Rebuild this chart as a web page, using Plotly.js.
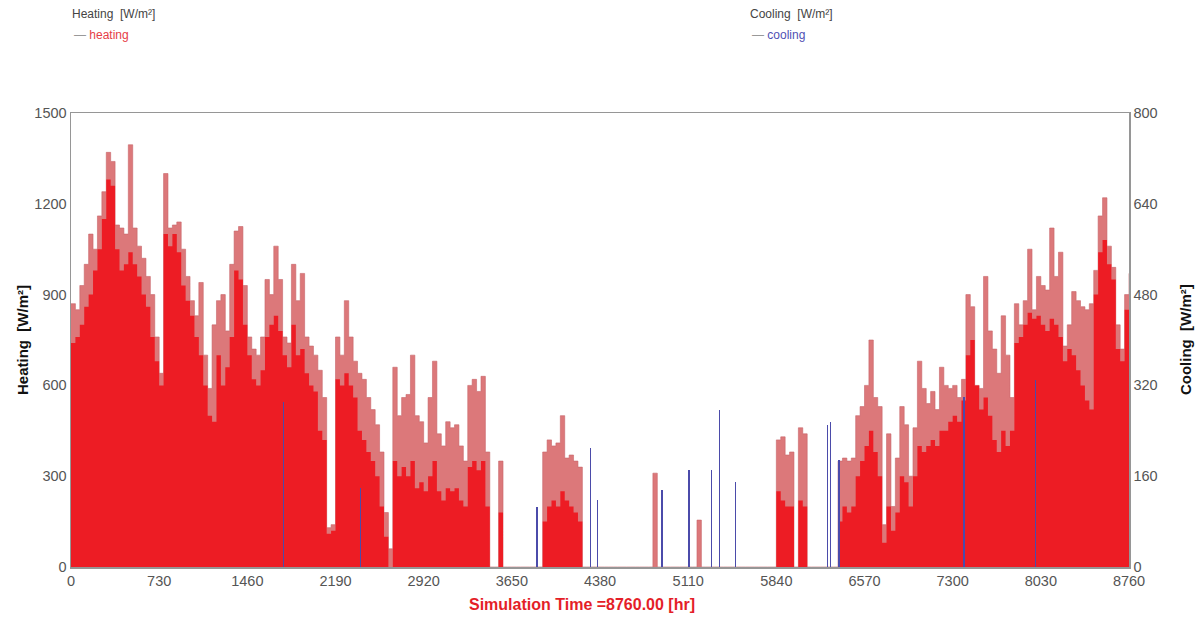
<!DOCTYPE html>
<html>
<head>
<meta charset="utf-8">
<script src="https://cdn.plot.ly/plotly-3.0.1.min.js"></script>
<style>html,body{margin:0;padding:0;background:#fff;}#chart{width:1198px;height:617px;}</style>
</head>
<body>
<div id="chart"></div>
<script>
// Sampling step of both heating series, hours
const heatingStep = 36.5;
// Heating peaks (upper envelope of the hourly heating line), W/m²
const heatingPeak = [
 870,850,930,1000,1100,1050,1160,1240,1370,1340,
 1130,1120,1100,1395,1120,1060,1020,960,900,760,
 640,1300,1120,1130,1140,1050,960,880,830,940,
 700,590,800,880,900,780,1000,1110,1125,930,
 760,720,700,760,950,900,1060,950,760,740,
 1000,880,970,760,730,700,650,560,130,140,
 760,700,880,760,680,640,620,560,520,470,
 380,180,60,660,500,560,570,700,500,480,
 410,560,680,440,400,480,460,470,400,350,
 600,620,580,630,380,0,0,350,0,0,
 0,0,0,0,0,0,0,380,420,400,
 410,500,360,370,350,330,0,0,0,0,
 0,0,0,0,0,0,0,0,0,0,
 0,0,310,0,0,0,0,0,0,0,
 0,0,155,0,0,0,0,0,0,0,
 0,0,0,0,0,0,0,0,0,0,
 420,430,370,380,0,460,440,0,0,0,
 0,0,0,0,350,360,350,360,500,530,
 600,750,560,530,140,440,200,360,530,470,
 300,460,680,590,540,580,520,660,600,590,
 600,560,620,900,860,600,590,960,780,720,
 640,830,700,560,870,800,880,1050,850,960,
 930,915,1120,960,1040,730,800,910,880,860,
 850,870,980,1160,1220,1060,990,800,720,900,
 970
];
// Heating dense level (where the hourly line is nearly solid), W/m²
const heatingBase = [
 740,760,800,860,900,980,1050,1150,1280,1260,
 1050,980,1000,1040,1000,960,900,860,760,680,
 600,1100,1060,1100,1040,930,880,830,760,700,
 600,500,480,700,600,660,760,980,950,800,
 700,620,600,650,760,800,830,780,700,660,
 800,700,720,640,600,580,450,420,110,120,
 620,600,640,600,560,450,420,380,350,300,
 200,100,0,350,300,330,300,350,260,280,
 250,300,350,250,220,260,250,260,220,200,
 330,350,320,350,200,0,0,180,0,0,
 0,0,0,0,0,0,0,150,200,220,
 200,250,220,200,180,150,0,0,0,0,
 0,0,0,0,0,0,0,0,0,0,
 0,0,0,0,0,0,0,0,0,0,
 0,0,0,0,0,0,0,0,0,0,
 0,0,0,0,0,0,0,0,0,0,
 250,220,200,200,0,220,200,0,0,0,
 0,0,0,0,150,200,180,200,300,350,
 400,450,380,300,80,200,120,180,300,280,
 200,300,400,380,400,420,400,450,450,480,
 500,480,550,700,750,600,520,560,500,420,
 380,450,400,450,740,760,800,840,820,830,
 800,780,820,800,760,680,720,700,650,600,
 550,520,900,1040,1080,1000,950,720,680,850,
 900
];
// Cooling spikes (hour, W/m²)
const coolingHours  = [1760, 2395, 3858, 4300, 4358, 4894, 5115, 5302, 5369, 5501, 6262, 6290, 6357, 7392, 7985];
const coolingValues = [290, 140, 106, 209, 118, 136, 171, 171, 276, 150, 250, 256, 188, 300, 330];

const xTicks = [0,730,1460,2190,2920,3650,4380,5110,5840,6570,7300,8030,8760];
const yTicks = [0,300,600,900,1200,1500];
const y2Ticks = [0,160,320,480,640,800];

const peakX = heatingPeak.map((_, i) => i * heatingStep);
const baseX = heatingBase.map((_, i) => i * heatingStep);

const FONT = "Liberation Sans, Arial, sans-serif";
const tickFont = {family: FONT, size: 14.5, color: "rgb(85,85,85)"};

const traces = [
  {x: peakX, y: heatingPeak, type: "scatter", mode: "lines", line: {shape: "hv", width: 0.6, color: "rgb(200,100,105)"},
   fill: "tozeroy", fillcolor: "rgb(220,120,122)", showlegend: false},
  {x: baseX, y: heatingBase, type: "scatter", mode: "lines", line: {shape: "hv", width: 0, color: "rgb(237,28,36)"},
   fill: "tozeroy", fillcolor: "rgb(237,28,36)", showlegend: false},
  {x: coolingHours, y: coolingValues, type: "bar", yaxis: "y2", width: 12,
   marker: {color: "rgb(75,75,170)", line: {width: 0}}, showlegend: false}
];

const axisLine = "rgb(150,150,150)";
const layout = {
  width: 1198, height: 617,
  margin: {l: 71, r: 69, t: 113, b: 50},
  paper_bgcolor: "#fff", plot_bgcolor: "#fff",
  showlegend: false,
  xaxis: {range: [0, 8760], tickvals: xTicks, ticktext: xTicks.map(String), tickfont: tickFont,
          showgrid: false, zeroline: false, showline: true, mirror: true, linecolor: axisLine, linewidth: 1.5, ticks: ""},
  yaxis: {range: [0, 1500], tickvals: yTicks, ticktext: yTicks.map(String), tickfont: tickFont,
          showgrid: false, zeroline: false, showline: true, linecolor: axisLine, linewidth: 1.5, ticks: ""},
  yaxis2: {range: [0, 800], overlaying: "y", side: "right", tickvals: y2Ticks, ticktext: y2Ticks.map(String), tickfont: tickFont,
          showgrid: false, zeroline: false, showline: true, linecolor: axisLine, linewidth: 1.5, ticks: ""},
  bargap: 0,
  annotations: [
    {xref: "paper", yref: "paper", x: -0.0463, y: 0.5, text: "<b>Heating  [W/m²]</b>", textangle: -90, showarrow: false,
     font: {family: FONT, size: 15, color: "#111"}, xanchor: "center", yanchor: "middle"},
    {xref: "paper", yref: "paper", x: 1.053, y: 0.5, text: "<b>Cooling  [W/m²]</b>", textangle: -90, showarrow: false,
     font: {family: FONT, size: 15, color: "#111"}, xanchor: "center", yanchor: "middle"},
    {xref: "paper", yref: "paper", x: 0.483, y: -0.0837, text: "<b>Simulation Time =8760.00 [hr]</b>", showarrow: false,
     font: {family: FONT, size: 16, color: "rgb(228,30,40)"}, xanchor: "center", yanchor: "middle"},
    {xref: "paper", yref: "paper", x: -0.001, y: 1.218, text: "Heating  [W/m²]", showarrow: false,
     font: {family: FONT, size: 12, color: "#444"}, xanchor: "left", yanchor: "middle"},
    {xref: "paper", yref: "paper", x: 0.001, y: 1.172, text: "<span style='color:#999'>—</span> heating", showarrow: false,
     font: {family: FONT, size: 12, color: "rgb(230,60,70)"}, xanchor: "left", yanchor: "middle"},
    {xref: "paper", yref: "paper", x: 0.6399, y: 1.218, text: "Cooling  [W/m²]", showarrow: false,
     font: {family: FONT, size: 12, color: "#444"}, xanchor: "left", yanchor: "middle"},
    {xref: "paper", yref: "paper", x: 0.6418, y: 1.172, text: "<span style='color:#999'>—</span> cooling", showarrow: false,
     font: {family: FONT, size: 12, color: "rgb(80,80,180)"}, xanchor: "left", yanchor: "middle"}
  ]
};

Plotly.newPlot("chart", traces, layout, {displayModeBar: false, staticPlot: true});
</script>
</body>
</html>
